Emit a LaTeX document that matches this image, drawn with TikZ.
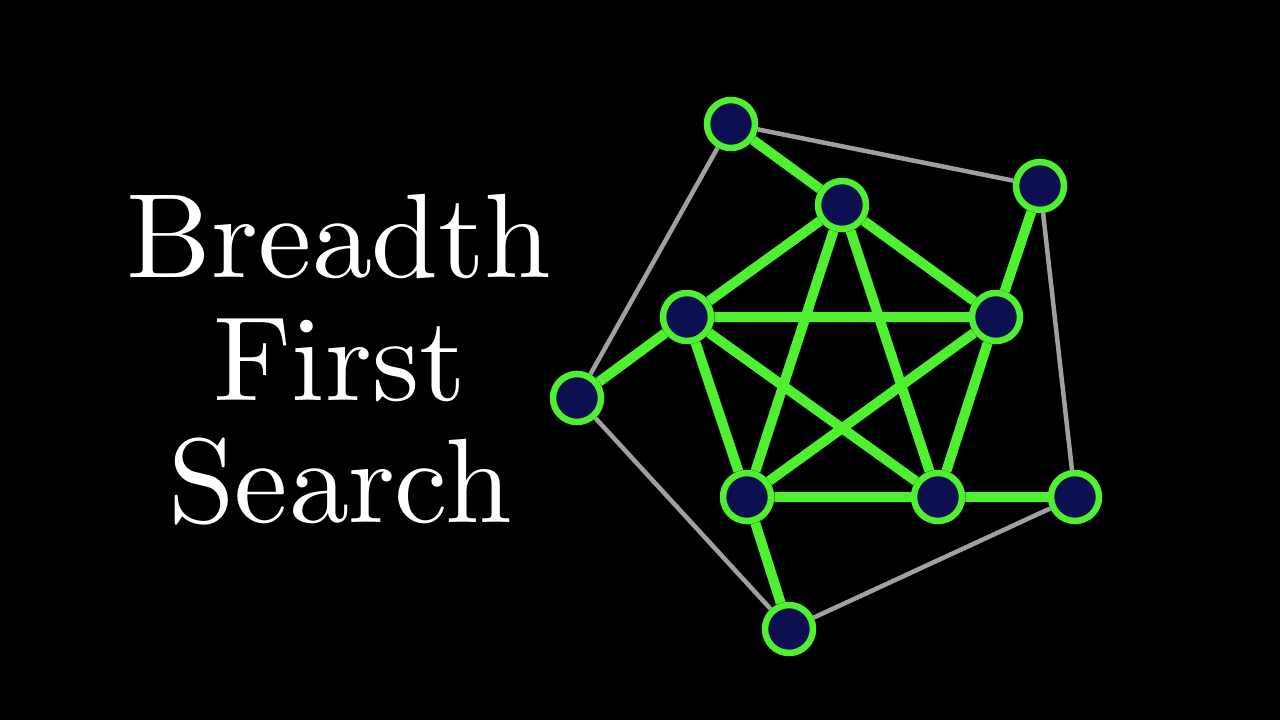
\documentclass[tikz,border=0pt]{standalone}
\definecolor{vgreen}{HTML}{4EF02F}
\definecolor{vnavy}{HTML}{0C0F50}
\definecolor{vgray}{HTML}{A0A0A0}
\font\bfstitlefont=cmr10 at 120pt
\pgfdeclarelayer{edgelayer}
\pgfsetlayers{edgelayer,main}
\tikzset{
  vert/.style={circle, fill=vnavy, draw=vgreen, line width=6.5pt, minimum size=48pt, inner sep=0pt},
  tree/.style={draw=vgreen, line width=10pt},
  other/.style={draw=vgray, line width=4.5pt},
  title/.style={text=white, anchor=base, font=\bfstitlefont, inner sep=0pt}
}
\begin{document}
\begin{tikzpicture}[x=1pt,y=-1pt]
\node[title] (t1) at (339,277) {Breadth};
\node[title] (t2) at (340,400) {First};
\node[title] (t3) at (340,522) {Search};
\node[vert] (A) at (731,124) {};
\node[vert] (B) at (842,205) {};
\node[vert] (C) at (1040,186) {};
\node[vert] (D) at (687,317) {};
\node[vert] (E) at (996,317) {};
\node[vert] (F) at (577,398) {};
\node[vert] (G) at (747,497) {};
\node[vert] (H) at (938,497) {};
\node[vert] (I) at (1075,497) {};
\node[vert] (J) at (789,629) {};
\begin{pgfonlayer}{edgelayer}
\fill[black] (0,0) rectangle (1280,720);
\path[other] (A) -- (C) (A) -- (F) (F) -- (J) (J) -- (I) (I) -- (C);
\path[tree] (A) -- (B) (B) -- (D) (B) -- (E) (B) -- (G) (B) -- (H)
  (D) -- (E) (D) -- (G) (D) -- (H) (E) -- (G) (E) -- (H) (G) -- (H)
  (D) -- (F) (E) -- (C) (H) -- (I) (G) -- (J);
\end{pgfonlayer}
\useasboundingbox (0,0) rectangle (1280,720);
\end{tikzpicture}
\end{document}
